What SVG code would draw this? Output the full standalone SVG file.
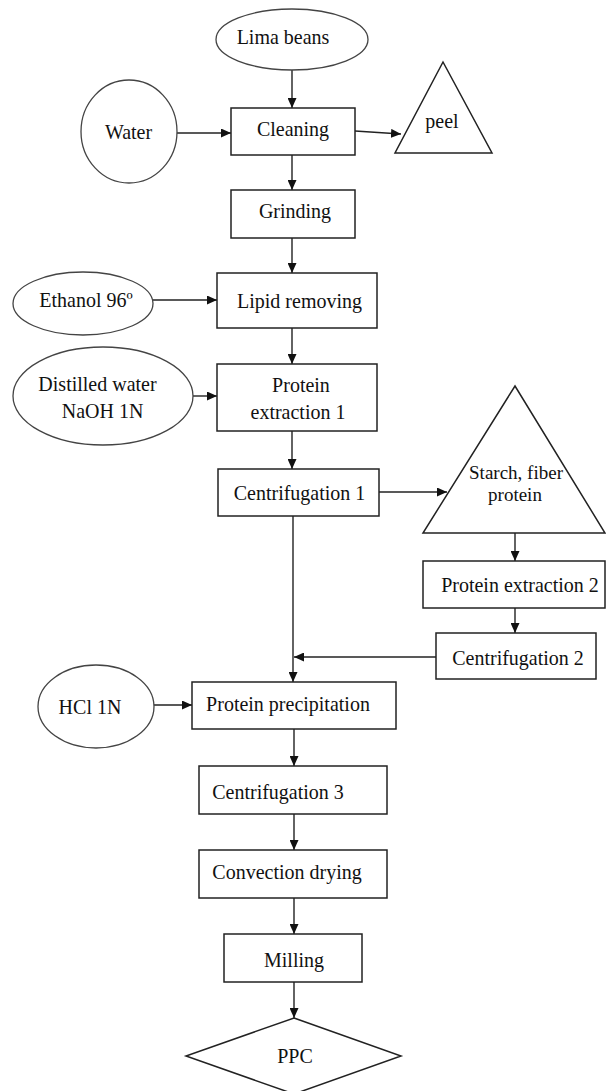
<svg xmlns="http://www.w3.org/2000/svg" width="606" height="1091" viewBox="0 0 606 1091">
<style>
.box{fill:#fff;stroke:#222;stroke-width:1.5}
.ell{fill:#fff;stroke:#444;stroke-width:1.3}
.con{fill:none;stroke:#222;stroke-width:1.4}
text{font-family:"Liberation Serif","Times New Roman",serif;font-size:20px;fill:#111;text-anchor:middle}
.sm{font-size:19px}
</style>
<defs>
<marker id="ah" markerUnits="userSpaceOnUse" markerWidth="10" markerHeight="9" refX="10" refY="4.5" orient="auto">
<path d="M0,0 L10,4.5 L0,9 z" fill="#111"/>
</marker>
</defs>
<rect width="606" height="1091" fill="#fff"/>
<g id="connectors">
<path class="con" d="M292,70 V108" marker-end="url(#ah)"/>
<path class="con" d="M177,133 H231" marker-end="url(#ah)"/>
<path class="con" d="M355,131 L401,134" marker-end="url(#ah)"/>
<path class="con" d="M292,155 V190" marker-end="url(#ah)"/>
<path class="con" d="M292,238 V273" marker-end="url(#ah)"/>
<path class="con" d="M153,300 H217" marker-end="url(#ah)"/>
<path class="con" d="M292,328 V364" marker-end="url(#ah)"/>
<path class="con" d="M193,396 H217" marker-end="url(#ah)"/>
<path class="con" d="M292,431 V469" marker-end="url(#ah)"/>
<path class="con" d="M379,492 H447" marker-end="url(#ah)"/>
<path class="con" d="M515,533 V561" marker-end="url(#ah)"/>
<path class="con" d="M515,608 V633" marker-end="url(#ah)"/>
<path class="con" d="M293,516 V682" marker-end="url(#ah)"/>
<path class="con" d="M436,657 H294" marker-end="url(#ah)"/>
<path class="con" d="M154,705 H192" marker-end="url(#ah)"/>
<path class="con" d="M294,729 V766" marker-end="url(#ah)"/>
<path class="con" d="M294,814 V850" marker-end="url(#ah)"/>
<path class="con" d="M294,898 V934" marker-end="url(#ah)"/>
<path class="con" d="M294,982 V1018" marker-end="url(#ah)"/>
</g>
<g id="lima"><ellipse class="ell" cx="292" cy="39.5" rx="76" ry="30.5"/><text transform="translate(283,44) scale(1,1.1)">Lima beans</text></g>
<g id="water"><ellipse class="ell" cx="129" cy="131.5" rx="48" ry="51.5"/><text transform="translate(128.5,139) scale(1,1.1)">Water</text></g>
<g id="cleaning"><rect class="box" x="231" y="108" width="124" height="47"/><text transform="translate(293,136) scale(1,1.1)">Cleaning</text></g>
<g id="peel"><polygon class="box" points="443,62 492,153 395,153"/><text transform="translate(442,128) scale(1,1.1)">peel</text></g>
<g id="grinding"><rect class="box" x="231" y="190" width="124" height="48"/><text transform="translate(295,218) scale(1,1.1)">Grinding</text></g>
<g id="ethanol"><ellipse class="ell" cx="83" cy="303.5" rx="70" ry="31.5"/><text transform="translate(86,307) scale(1,1.1)">Ethanol 96º</text></g>
<g id="lipid"><rect class="box" x="217" y="273" width="160" height="55"/><text transform="translate(299.5,308) scale(1,1.1)">Lipid removing</text></g>
<g id="distilled"><ellipse class="ell" cx="103" cy="396" rx="90" ry="49"/><text transform="translate(97.5,391) scale(1,1.1)">Distilled water</text><text transform="translate(102.5,418) scale(1,1.1)">NaOH 1N</text></g>
<g id="extraction1"><rect class="box" x="217" y="364" width="160" height="67"/><text transform="translate(301,392) scale(1,1.1)">Protein</text><text transform="translate(298,419) scale(1,1.1)">extraction 1</text></g>
<g id="centrifugation1"><rect class="box" x="218" y="469" width="161" height="47"/><text transform="translate(299.5,500) scale(1,1.1)">Centrifugation 1</text></g>
<g id="starch"><polygon class="box" points="515,386 605,533 423,533"/><text class="sm" x="516" y="479">Starch, fiber</text><text class="sm" x="515" y="501">protein</text></g>
<g id="extraction2"><rect class="box" x="423" y="561" width="182" height="47"/><text transform="translate(520,592) scale(1,1.1)">Protein extraction 2</text></g>
<g id="centrifugation2"><rect class="box" x="436" y="633" width="160" height="46"/><text transform="translate(518,665) scale(1,1.1)">Centrifugation 2</text></g>
<g id="hcl"><ellipse class="ell" cx="96" cy="706.5" rx="58" ry="41.5"/><text transform="translate(90,714) scale(1,1.1)">HCl 1N</text></g>
<g id="precipitation"><rect class="box" x="192" y="682" width="204" height="47"/><text transform="translate(288,711) scale(1,1.1)">Protein precipitation</text></g>
<g id="centrifugation3"><rect class="box" x="199" y="766" width="188" height="48"/><text transform="translate(278,799) scale(1,1.1)">Centrifugation 3</text></g>
<g id="drying"><rect class="box" x="199" y="850" width="188" height="48"/><text transform="translate(287,879) scale(1,1.1)">Convection drying</text></g>
<g id="milling"><rect class="box" x="224" y="934" width="138" height="48"/><text transform="translate(294,967) scale(1,1.1)">Milling</text></g>
<g id="ppc"><polygon class="box" points="294,1018 401,1056 294,1094 186,1056"/><text transform="translate(295,1063) scale(1,1.1)">PPC</text></g>
</svg>
